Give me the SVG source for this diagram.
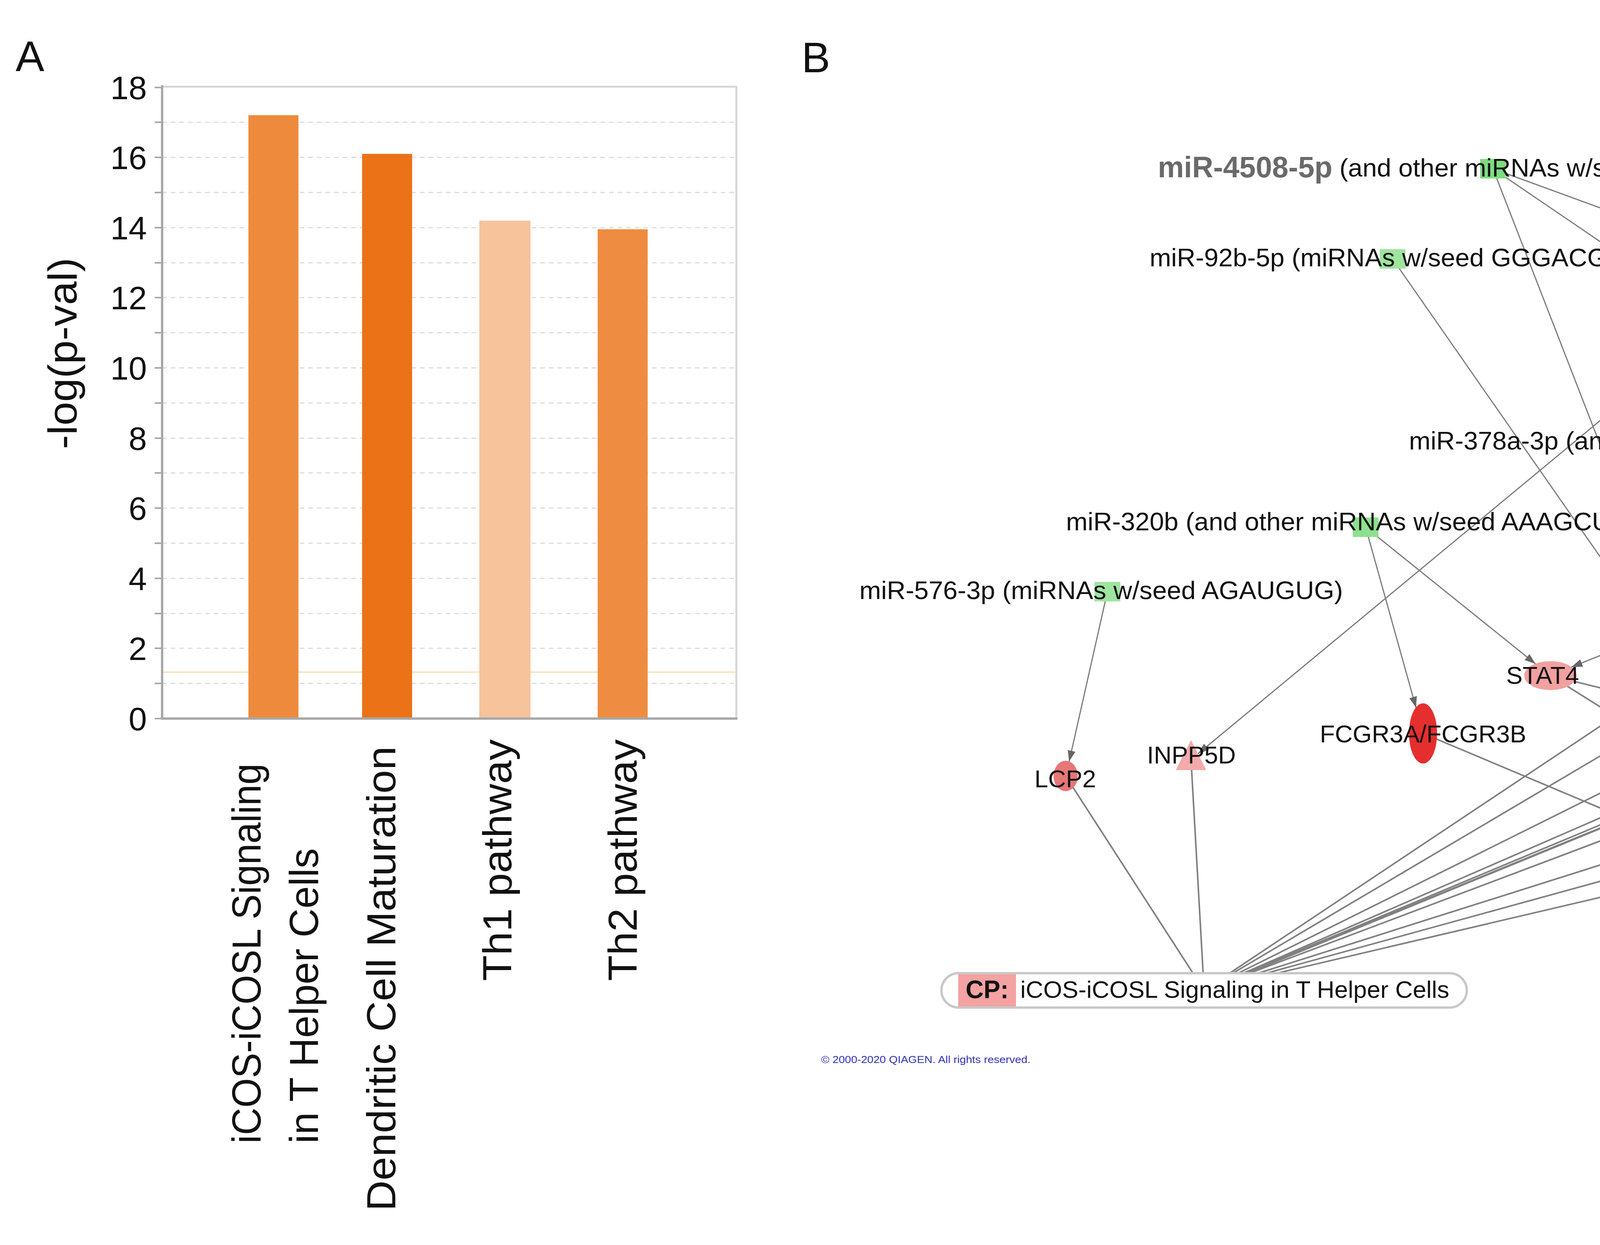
<svg xmlns="http://www.w3.org/2000/svg" width="7813" height="3188" viewBox="0 0 7813 3188">
<style>
text{font-family:"Liberation Sans",Arial,sans-serif;fill:#111}
.tick{font-size:84px;text-anchor:end}
.xl{font-size:104px}
.grid{stroke:#dcdcdc;stroke-width:3;stroke-dasharray:12 10}
.e{stroke:#7a7a7a;stroke-width:3;fill:none;marker-end:url(#arr)}
.c{stroke:#808080;stroke-width:4;fill:none}
.g{font-size:63px;text-anchor:middle}
.m{font-size:64px}
.mb{font-size:76px;font-weight:bold;fill:#6a6a6a}
.grn{fill:#62d462}
.grl{fill:#9fe49f}
.cpbox{fill:#fff;stroke:#c8c8c8;stroke-width:6}
.cppink{fill:#f4a2a2}
.cpt{font-size:64px;font-weight:bold;text-anchor:middle}
.cpl{font-size:62px}
</style>
<defs>
<marker id="arr" markerUnits="userSpaceOnUse" markerWidth="30" markerHeight="22" refX="28" refY="10" orient="auto"><path d="M0,0 L28,10 L0,20 z" fill="#666"/></marker>
</defs>
<rect width="7813" height="3188" fill="#fff"/>

<g id="panelA">
<text x="40" y="182" style="font-size:110px">A</text>
<g id="grid">
<line class="grid" x1="415" x2="1885" y1="1750" y2="1750"/>
<line class="grid" x1="415" x2="1885" y1="1660" y2="1660"/>
<line class="grid" x1="415" x2="1885" y1="1571" y2="1571"/>
<line class="grid" x1="415" x2="1885" y1="1481" y2="1481"/>
<line class="grid" x1="415" x2="1885" y1="1391" y2="1391"/>
<line class="grid" x1="415" x2="1885" y1="1301" y2="1301"/>
<line class="grid" x1="415" x2="1885" y1="1211" y2="1211"/>
<line class="grid" x1="415" x2="1885" y1="1122" y2="1122"/>
<line class="grid" x1="415" x2="1885" y1="1032" y2="1032"/>
<line class="grid" x1="415" x2="1885" y1="942" y2="942"/>
<line class="grid" x1="415" x2="1885" y1="852" y2="852"/>
<line class="grid" x1="415" x2="1885" y1="762" y2="762"/>
<line class="grid" x1="415" x2="1885" y1="673" y2="673"/>
<line class="grid" x1="415" x2="1885" y1="583" y2="583"/>
<line class="grid" x1="415" x2="1885" y1="493" y2="493"/>
<line class="grid" x1="415" x2="1885" y1="403" y2="403"/>
<line class="grid" x1="415" x2="1885" y1="313" y2="313"/>
</g>
<rect x="415" y="222" width="1470" height="1618" fill="none" stroke="#d6d6d6" stroke-width="5"/>
<line x1="415" y1="1721" x2="1885" y2="1721" stroke="#f7dcae" stroke-width="3"/>
<g id="bars">
<rect x="636" y="295" width="128" height="1545" fill="#ee8a3c"/>
<rect x="927" y="394" width="128" height="1446" fill="#eb7216"/>
<rect x="1227" y="565" width="131" height="1275" fill="#f6c39b"/>
<rect x="1530" y="587" width="128" height="1253" fill="#ee8d41"/>
</g>
<g id="axes" stroke="#a8a8a8" stroke-width="6">
<line x1="415" y1="218" x2="415" y2="1843"/>
<line x1="412" y1="1840" x2="1888" y2="1840"/>
<path d="M396 1840H415M396 1750H415M396 1660H415M396 1571H415M396 1481H415M396 1391H415M396 1301H415M396 1211H415M396 1122H415M396 1032H415M396 942H415M396 852H415M396 762H415M396 673H415M396 583H415M396 493H415M396 403H415M396 313H415M396 224H415" stroke-width="4"/>
</g>
<g id="ticklabels">
<text class="tick" x="376" y="1870">0</text>
<text class="tick" x="376" y="1690">2</text>
<text class="tick" x="376" y="1511">4</text>
<text class="tick" x="376" y="1331">6</text>
<text class="tick" x="376" y="1152">8</text>
<text class="tick" x="376" y="972">10</text>
<text class="tick" x="376" y="792">12</text>
<text class="tick" x="376" y="613">14</text>
<text class="tick" x="376" y="433">16</text>
<text class="tick" x="376" y="254">18</text>
</g>
<text transform="translate(196,905) rotate(-90)" class="xl" text-anchor="middle" textLength="490" lengthAdjust="spacingAndGlyphs">-log(p-val)</text>
<g id="xlabels">
<text class="xl" transform="translate(667,2928) rotate(-90)" textLength="973" lengthAdjust="spacingAndGlyphs">iCOS-iCOSL Signaling</text>
<text class="xl" transform="translate(814,2928) rotate(-90)" textLength="756" lengthAdjust="spacingAndGlyphs">in T Helper Cells</text>
<text class="xl" transform="translate(1012,3101) rotate(-90)" textLength="1190" lengthAdjust="spacingAndGlyphs">Dendritic Cell Maturation</text>
<text class="xl" transform="translate(1309,2512) rotate(-90)" textLength="619" lengthAdjust="spacingAndGlyphs">Th1 pathway</text>
<text class="xl" transform="translate(1630,2512) rotate(-90)" textLength="619" lengthAdjust="spacingAndGlyphs">Th2 pathway</text>
</g>
</g>

<text x="2052" y="185" style="font-size:110px">B</text>

<g id="connectors">
<line class="e" x1="4988" y1="338" x2="3067" y2="1930"/>
<line class="e" x1="4988" y1="338" x2="4654" y2="1436"/>
<line class="e" x1="4988" y1="338" x2="4878" y2="1466"/>
<line class="e" x1="4988" y1="338" x2="5076" y2="1407"/>
<line class="e" x1="4988" y1="338" x2="5265" y2="1548"/>
<line class="e" x1="4988" y1="338" x2="5449" y2="1494"/>
<line class="e" x1="4988" y1="338" x2="6241" y2="1496"/>
<line class="e" x1="4988" y1="338" x2="7144" y2="1524"/>
<line class="e" x1="3822" y1="432" x2="4334" y2="1751"/>
<line class="e" x1="3822" y1="432" x2="5436" y2="1530"/>
<line class="e" x1="3822" y1="432" x2="6933" y2="1569"/>
<line class="e" x1="3565" y1="663" x2="4330" y2="1761"/>
<line class="e" x1="4402" y1="1131" x2="4533" y2="1790"/>
<line class="e" x1="3496" y1="1350" x2="3625" y2="1812"/>
<line class="e" x1="3496" y1="1350" x2="3931" y2="1700"/>
<line class="e" x1="6888" y1="563" x2="4023" y2="1708"/>
<line class="e" x1="2835" y1="1515" x2="2737" y2="1950"/>
<line class="e" x1="5851" y1="879" x2="5504" y2="1503"/>
<line class="e" x1="5851" y1="879" x2="5960" y2="1376"/>
<line class="e" x1="6640" y1="340" x2="5313" y2="1588"/>
<line class="e" x1="6640" y1="340" x2="6566" y2="1502"/>
<line class="e" x1="6888" y1="563" x2="6581" y2="1515"/>
<line class="e" x1="7087" y1="1000" x2="6307" y2="1504"/>
<line class="e" x1="7087" y1="1000" x2="6774" y2="1636"/>
<line class="e" x1="6268" y1="1168" x2="6273" y2="1448"/>
<line class="e" x1="5211" y1="1256" x2="5659" y2="1454"/>
<line class="c" x1="2728" y1="1987" x2="3054" y2="2492"/>
<line class="c" x1="3049" y1="1945" x2="3080" y2="2492"/>
<line class="c" x1="4634" y1="1501" x2="3148" y2="2492"/>
<line class="c" x1="4348" y1="1787" x2="3156" y2="2492"/>
<line class="c" x1="4537" y1="1812" x2="3170" y2="2492"/>
<line class="c" x1="5281" y1="1618" x2="3187" y2="2492"/>
<line class="c" x1="5474" y1="1556" x2="3189" y2="2492"/>
<line class="c" x1="5690" y1="1468" x2="3194" y2="2492"/>
<line class="c" x1="5827" y1="1341" x2="3183" y2="2492"/>
<line class="c" x1="5975" y1="1445" x2="3199" y2="2492"/>
<line class="c" x1="6273" y1="1526" x2="3221" y2="2492"/>
<line class="c" x1="6561" y1="1578" x2="3242" y2="2492"/>
<line class="c" x1="6755" y1="1674" x2="3269" y2="2492"/>
<line class="c" x1="3643" y1="1878" x2="5246" y2="2553"/>
<line class="c" x1="3969" y1="1730" x2="5279" y2="2553"/>
<line class="c" x1="4348" y1="1787" x2="5295" y2="2553"/>
<line class="c" x1="4537" y1="1812" x2="5304" y2="2553"/>
<line class="c" x1="4870" y1="1545" x2="5328" y2="2553"/>
<line class="c" x1="5082" y1="1486" x2="5338" y2="2553"/>
<line class="c" x1="5281" y1="1618" x2="5345" y2="2553"/>
<line class="c" x1="5827" y1="1341" x2="5364" y2="2553"/>
<line class="c" x1="5975" y1="1445" x2="5371" y2="2553"/>
<line class="c" x1="6273" y1="1526" x2="5385" y2="2553"/>
<line class="c" x1="6755" y1="1674" x2="5414" y2="2553"/>
<line class="c" x1="6968" y1="1582" x2="5417" y2="2553"/>
<line class="c" x1="3969" y1="1730" x2="7003" y2="2474"/>
<line class="c" x1="4537" y1="1812" x2="7017" y2="2474"/>
<line class="c" x1="4634" y1="1501" x2="7070" y2="2474"/>
<line class="c" x1="4870" y1="1545" x2="7076" y2="2474"/>
<line class="c" x1="5281" y1="1618" x2="7087" y2="2474"/>
<line class="c" x1="5474" y1="1556" x2="7102" y2="2474"/>
<line class="c" x1="5690" y1="1468" x2="7117" y2="2474"/>
<line class="c" x1="5827" y1="1341" x2="7129" y2="2474"/>
<line class="c" x1="5975" y1="1445" x2="7130" y2="2474"/>
<line class="c" x1="6273" y1="1526" x2="7139" y2="2474"/>
<line class="c" x1="6561" y1="1578" x2="7150" y2="2474"/>
<line class="c" x1="6755" y1="1674" x2="7156" y2="2474"/>
<line class="c" x1="6968" y1="1582" x2="7168" y2="2474"/>
<line class="c" x1="7182" y1="1545" x2="7178" y2="2474"/>
</g>

<g id="miR-5189-5p"><rect class="grn" x="4955" y="313" width="66" height="50"/><text class="mb" x="4116" y="360" textLength="447" lengthAdjust="spacingAndGlyphs">miR-5189-5p</text><text class="m" x="4581" y="358" textLength="1164" lengthAdjust="spacingAndGlyphs">(and other miRNAs w/seed CUGGGCA)</text></g>
<g id="miR-4508-5p"><rect class="grn" x="3789" y="407" width="66" height="50" style="fill:#7fdc7f"/><text class="mb" x="2964" y="454" textLength="447" lengthAdjust="spacingAndGlyphs">miR-4508-5p</text><text class="m" x="3429" y="452" textLength="1182" lengthAdjust="spacingAndGlyphs">(and other miRNAs w/seed CGGGGCU)</text></g>
<g id="miR-92b-5p"><rect class="grl" x="3532" y="638" width="66" height="50"/><text class="m" x="2943" y="682" textLength="1245" lengthAdjust="spacingAndGlyphs">miR-92b-5p (miRNAs w/seed GGGACGG)</text></g>
<g id="miR-378a-3p"><rect class="grl" x="4369" y="1106" width="66" height="50"/><text class="m" x="3607" y="1151" textLength="1571" lengthAdjust="spacingAndGlyphs">miR-378a-3p (and other miRNAs w/seed CUGGACU)</text></g>
<g id="miR-320b"><rect class="grn" x="3463" y="1325" width="66" height="50" style="fill:#8ee08e"/><text class="m" x="2729" y="1358" textLength="1468" lengthAdjust="spacingAndGlyphs">miR-320b (and other miRNAs w/seed AAAGCUG)</text></g>
<g id="miR-576-3p"><rect class="grl" x="2802" y="1490" width="66" height="50"/><text class="m" x="2200" y="1534" textLength="1238" lengthAdjust="spacingAndGlyphs">miR-576-3p (miRNAs w/seed AGAUGUG)</text></g>
<g id="miR-423-5p"><rect class="grn" x="6607" y="315" width="66" height="50"/><text class="m" x="5847" y="364" textLength="1547" lengthAdjust="spacingAndGlyphs">miR-423-5p (and other miRNAs w/seed GAGGGGC)</text></g>
<g id="miR-3150b-3p"><rect class="grn" x="6855" y="538" width="66" height="50"/><text class="m" x="6066" y="583" textLength="1612" lengthAdjust="spacingAndGlyphs">miR-3150b-3p (and other miRNAs w/seed GAGGAGA)</text></g>
<g id="miR-3158-3p"><rect class="grn" x="5818" y="854" width="66" height="50" style="fill:#7fdc7f"/><text class="m" x="5186" y="896" textLength="1277" lengthAdjust="spacingAndGlyphs">miR-3158-3p (miRNAs w/seed AGGGCUU)</text></g>
<g id="miR-1299"><rect class="grn" x="7054" y="975" width="66" height="50"/><text class="m" x="6477" y="1019" textLength="1171" lengthAdjust="spacingAndGlyphs">miR-1299 (miRNAs w/seed UCUGGAA)</text></g>
<g id="miR-101-3p"><rect class="grl" x="6235" y="1143" width="66" height="50"/><text class="m" x="5504" y="1179" textLength="1522" lengthAdjust="spacingAndGlyphs">miR-101-3p (and other miRNAs w/seed ACAGUAC)</text></g>
<g id="miR-629-5p"><rect class="grn" x="5178" y="1231" width="66" height="50" style="fill:#7fdc7f"/><text class="m" x="4571" y="1267" textLength="1231" lengthAdjust="spacingAndGlyphs">miR-629-5p (miRNAs w/seed GGGUUUA)</text></g>

<g id="CD247"><ellipse cx="4634" cy="1501" rx="36" ry="77" fill="#f4a6a6"/><text class="g" x="4630" y="1521">CD247</text></g>
<g id="ICAM1"><ellipse cx="4870" cy="1545" rx="35" ry="81" fill="#f29494"/><text class="g" x="4868" y="1569">ICAM1</text></g>
<g id="TNFRSF1B"><ellipse cx="5082" cy="1486" rx="35" ry="80" fill="#f6b4b4"/><text class="g" x="5082" y="1508">TNFRSF1B</text></g>
<g id="HLA-DOA"><ellipse cx="5281" cy="1618" rx="35" ry="78" fill="#f3a0a0"/><text class="g" x="5266" y="1639">HLA-DOA</text></g>
<g id="IL2RG"><ellipse cx="5474" cy="1556" rx="40" ry="80" fill="#e63a3a"/><text class="g" x="5460" y="1575">IL2RG</text></g>
<g id="IL2RB"><ellipse cx="5690" cy="1468" rx="32" ry="78" fill="#ec6464"/><text class="g" x="5696" y="1486">IL2RB</text></g>
<g id="HLA-DQB2"><ellipse cx="5827" cy="1341" rx="35" ry="78" fill="#f6b8b8"/><text class="g" x="5827" y="1365">HLA-DQB2</text></g>
<g id="HLA-DRA"><ellipse cx="5975" cy="1445" rx="35" ry="77" fill="#f4a8a8"/><text class="g" x="5975" y="1467">HLA-DRA</text></g>
<g id="CD86"><ellipse cx="6273" cy="1526" rx="35" ry="78" fill="#ef6e6e"/><text class="g" x="6264" y="1547">CD86</text></g>
<g id="CD4"><ellipse cx="6561" cy="1578" rx="35" ry="77" fill="#f08282"/><text class="g" x="6542" y="1601">CD4</text></g>
<g id="CD40LG"><rect x="6717" y="1636" width="76" height="76" fill="#f3bdbd"/><text class="g" x="6755" y="1690">CD40LG</text></g>
<g id="IL10RA"><ellipse cx="6968" cy="1582" rx="35" ry="80" fill="#eb5e5e"/><text class="g" x="6968" y="1601">IL10RA</text></g>
<g id="KLRD1"><ellipse cx="7182" cy="1545" rx="40" ry="78" fill="#ef7a7a"/><text class="g" x="7181" y="1569">KLRD1</text></g>
<g id="STAT4"><ellipse cx="3969" cy="1730" rx="67" ry="37" fill="#f2a0a0"/><text class="g" x="3949" y="1751">STAT4</text></g>
<g id="PLCB2"><path d="M4348 1712L4375 1787L4348 1862L4321 1787Z" fill="#f6b6b6"/><text class="g" x="4336" y="1808">PLCB2</text></g>
<g id="PIK3CG"><path d="M4500 1790L4575 1790L4537 1855Z" fill="#e98c8c"/><text class="g" x="4532" y="1853">PIK3CG</text></g>
<g id="FCGR3A-FCGR3B"><ellipse cx="3643" cy="1878" rx="36" ry="77" fill="#e52e2e"/><text class="g" x="3643" y="1901">FCGR3A/FCGR3B</text></g>
<g id="INPP5D"><path d="M3049 1895L3088 1972L3010 1972Z" fill="#f2aaaa"/><text class="g" x="3050" y="1955">INPP5D</text></g>
<g id="LCP2"><ellipse cx="2728" cy="1987" rx="31" ry="39" fill="#e77676"/><text class="g" x="2727" y="2016">LCP2</text></g>

<g id="CP-iCOS"><rect class="cpbox" x="2410" y="2492" width="1345" height="88" rx="44"/><rect class="cppink" x="2453" y="2495" width="148" height="82"/><text class="cpt" x="2527" y="2556">CP:</text><text class="cpl" x="2612" y="2555" textLength="1098" lengthAdjust="spacingAndGlyphs">iCOS-iCOSL Signaling in T Helper Cells</text></g>
<g id="CP-DC"><rect class="cpbox" x="4888" y="2553" width="920" height="87" rx="43"/><rect class="cppink" x="4925" y="2556" width="154" height="81"/><text class="cpt" x="5002" y="2617">CP:</text><text class="cpl" x="5090" y="2616" textLength="671" lengthAdjust="spacingAndGlyphs">Dendritic Cell Maturation</text></g>
<g id="CP-Th"><rect class="cpbox" x="6617" y="2474" width="1124" height="87" rx="43"/><rect class="cppink" x="6655" y="2477" width="144" height="81"/><text class="cpt" x="6727" y="2538">CP:</text><text class="cpl" x="6818" y="2537" textLength="884" lengthAdjust="spacingAndGlyphs">Th1 and Th2 Activation Pathway</text></g>

<text x="2102" y="2722" style="font-size:26px;fill:#3434b8" textLength="536" lengthAdjust="spacingAndGlyphs">© 2000-2020 QIAGEN. All rights reserved.</text>
</svg>
